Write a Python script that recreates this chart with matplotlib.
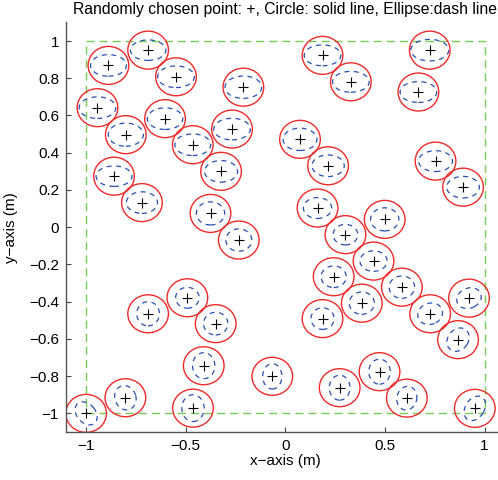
import matplotlib
matplotlib.use("Agg")
import matplotlib.pyplot as plt
from matplotlib.patches import Circle, Ellipse

plt.rcParams['font.family'] = ['Liberation Sans', 'DejaVu Sans']

# Randomly chosen points
px = [-0.688, -0.887, -0.548, -0.210, -0.942, -0.603, -0.800, -0.267, -0.464, -0.859,
      -0.322, -0.719, -0.375, -0.233, 0.187, 0.329, 0.725, 0.668, 0.074, 0.215,
      0.754, 0.892, 0.162, 0.499, 0.302, 0.443, 0.243, 0.585, 0.384, 0.922,
      0.727, 0.187, 0.867, -0.491, -0.688, -0.349, -0.409, -0.065, 0.473, 0.273,
      0.610, 0.951, -0.802, -0.999, -0.463]
py = [0.951, 0.869, 0.808, 0.752, 0.642, 0.583, 0.497, 0.527, 0.443, 0.274,
      0.300, 0.132, 0.074, -0.069, 0.923, 0.781, 0.951, 0.726, 0.472, 0.330,
      0.355, 0.215, 0.103, 0.042, -0.040, -0.182, -0.266, -0.322, -0.408, -0.381,
      -0.465, -0.491, -0.604, -0.379, -0.465, -0.518, -0.744, -0.801, -0.776, -0.862,
      -0.918, -0.973, -0.916, -1.000, -0.972]
# Ellipse semi-axes (a along the rotated x axis, b perpendicular) and angle (deg)
ea = [0.089, 0.090, 0.092, 0.092, 0.092, 0.089, 0.088, 0.092, 0.090, 0.090,
      0.083, 0.078, 0.071, 0.065, 0.092, 0.092, 0.095, 0.092, 0.085, 0.081,
      0.085, 0.082, 0.071, 0.071, 0.062, 0.068, 0.063, 0.064, 0.063, 0.064,
      0.064, 0.058, 0.066, 0.059, 0.057, 0.061, 0.056, 0.048, 0.054, 0.052,
      0.064, 0.070, 0.066, 0.068, 0.056]
eb = [0.055, 0.058, 0.058, 0.060, 0.058, 0.058, 0.062, 0.058, 0.058, 0.055,
      0.058, 0.058, 0.062, 0.060, 0.056, 0.056, 0.058, 0.056, 0.060, 0.058,
      0.056, 0.058, 0.056, 0.062, 0.055, 0.055, 0.058, 0.060, 0.060, 0.053,
      0.056, 0.058, 0.052, 0.056, 0.065, 0.061, 0.070, 0.068, 0.067, 0.067,
      0.050, 0.048, 0.053, 0.048, 0.072]
eang = [0, 0, 0, 0, 0, 0, 0, 0, 0, 0,
        0, 0, 0, 0, 0, 0, 0, 0, 0, 0,
        0, 0, 0, 0, 0, 0, 0, 0, 0, 30,
        30, 0, 60, 0, 0, 0, 0, 0, 0, 0,
        80, 62, 105, 125, 0]
circle_r = 0.102

xticks = [-1, -0.5, 0, 0.5, 1]
xticklabels = ['\u22121', '\u22120.5', '0', '0.5', '1']
yticks = [-1, -0.8, -0.6, -0.4, -0.2, 0, 0.2, 0.4, 0.6, 0.8, 1]
yticklabels = ['\u22121', '\u22120.8', '\u22120.6', '\u22120.4', '\u22120.2', '0',
               '0.2', '0.4', '0.6', '0.8', '1']
square_x = [-1, 1, 1, -1, -1]
square_y = [-1, -1, 1, 1, -1]

fig = plt.figure(figsize=(4.98, 4.80), dpi=100)
ax = fig.add_axes([66/498, 48/480, 438.5/498, 409.6/480])

ax.plot(square_x, square_y, color='#77cc55', lw=1.0, linestyle=(0, (5.8, 3.6)), zorder=1)

for x, y, a, b, ang in zip(px, py, ea, eb, eang):
    ax.add_patch(Circle((x, y), circle_r, fill=False, edgecolor='#ee2a2a', lw=1.0, zorder=2))
    ax.add_patch(Ellipse((x, y), 2 * a, 2 * b, angle=ang, fill=False, edgecolor='#2a4fb0',
                         lw=0.9, linestyle=(0, (4.0, 3.6)), zorder=3))
ax.plot(px, py, linestyle='none', marker='+', color='black', markersize=7.5, mew=0.8, zorder=4)

ax.set_xlim(-1.1, 1.1)
ax.set_ylim(-1.1, 1.1)
ax.set_xticks(xticks)
ax.set_xticklabels(xticklabels)
ax.set_yticks(yticks)
ax.set_yticklabels(yticklabels)
ax.tick_params(direction='in', length=3.6, width=0.8, color='#444444', labelsize=11, pad=5)
for s in ['top', 'right']:
    ax.spines[s].set_visible(False)
for s in ['left', 'bottom']:
    ax.spines[s].set_color('#555555')
    ax.spines[s].set_linewidth(1.0)

ax.set_xlabel('x\u2212axis (m)', fontsize=11, labelpad=1)
ax.set_ylabel('y\u2212axis (m)', fontsize=11, labelpad=8)
ax.set_title('Randomly chosen point: +, Circle: solid line, Ellipse:dash line', fontsize=11.3, pad=6)

fig.savefig('out.png', dpi=100)
